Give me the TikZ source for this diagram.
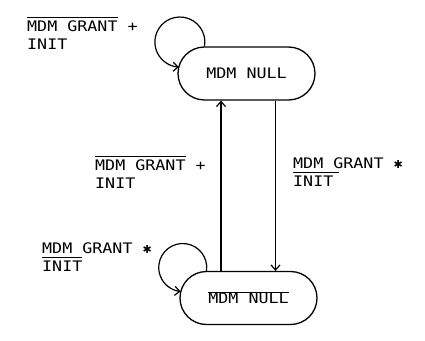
\documentclass[tikz,border=0pt]{standalone}
\usepackage{fontspec}
\usetikzlibrary{shapes.misc,arrows.meta}
\newfontfamily\plotfont[FakeStretch=1.15]{DejaVu Sans Mono}
\newfontfamily\symfont{DejaVu Sans}
\newcommand{\plotsize}{\fontsize{14.5}{18}\selectfont}
\newcommand{\barred}[2][3pt]{\vbox{\hrule height 0.9pt\kern #1\hbox{#2}}}
\newcommand{\andsym}{{\symfont\fontsize{11}{11}\selectfont ✱}}

\begin{document}
\begin{tikzpicture}[x=1pt,y=1pt,
  state/.style={draw, rounded rectangle, line width=1.3pt, minimum width=137pt,
    minimum height=53pt, inner sep=0pt, font=\plotfont\plotsize},
  cond/.style={align=left, inner sep=0pt, anchor=north west, font=\plotfont\plotsize},
  trans/.style={line width=1.2pt, -{Straight Barb[length=5pt,width=9pt]}}]
  \useasboundingbox (0,0) rectangle (425,340);
  % States
  \node[state] (nullTop) at (246.5,266.5) {MDM NULL};
  \node[state] (nullBot) at (248.5,42) {\barred[0.6pt]{MDM NULL}};
  % Self loops
  \draw[trans] (nullTop.north west) arc[start angle=-10, end angle=268, radius=25];
  \draw[trans] (nullBot.north west) arc[start angle=-8, end angle=265, radius=24];
  % Vertical transitions
  \draw[trans] ([xshift=-27.5pt]nullBot.north) -- ([xshift=-27.5pt]nullBot.north |- nullTop.south);
  \draw[trans] ([xshift=29pt]nullTop.south) -- ([xshift=29pt]nullTop.south |- nullBot.north);
  % Conditions
  \node[cond] (condTop) at (27,323) {\barred{MDM GRANT} +\\INIT};
  \node[cond] (condUp) at (95,184) {\barred{MDM GRANT} +\\INIT};
  \node[cond] (condDown) at (293,182) {MDM GRANT \andsym\\\barred{INIT\kern6pt}};
  \node[cond] (condBot) at (42,97) {MDM GRANT \andsym\\\barred{INIT}};
\end{tikzpicture}
\end{document}
